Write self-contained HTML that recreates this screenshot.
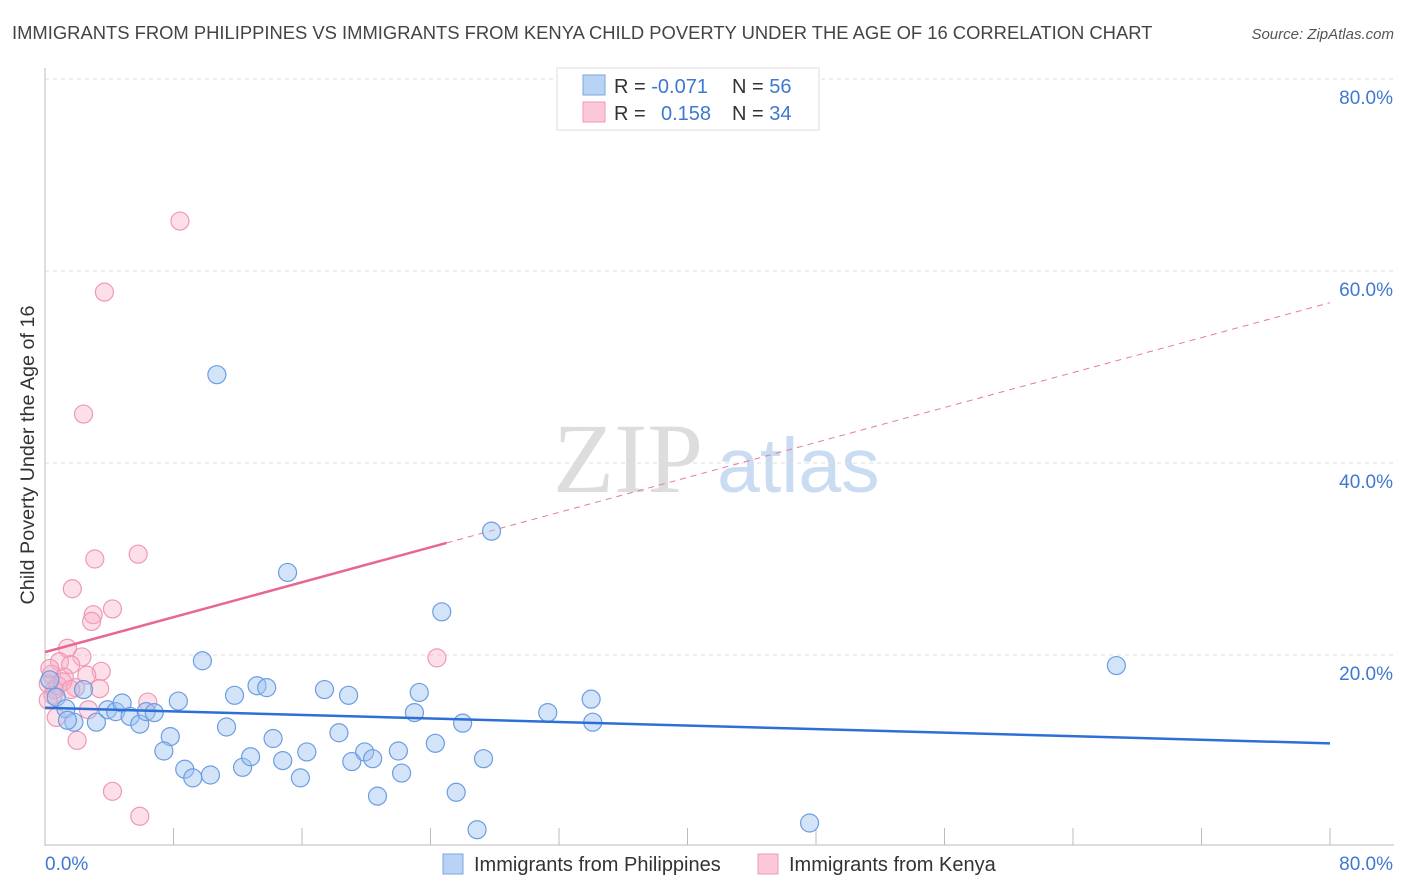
<!DOCTYPE html>
<html><head><meta charset="utf-8"><style>
body{margin:0;background:#fff;font-family:"Liberation Sans",sans-serif;}
svg{display:block}
</style></head><body>
<svg id="chart" width="1406" height="892" xmlns="http://www.w3.org/2000/svg">
<text x="12" y="39" font-size="18.4" fill="#444">IMMIGRANTS FROM PHILIPPINES VS IMMIGRANTS FROM KENYA CHILD POVERTY UNDER THE AGE OF 16 CORRELATION CHART</text>
<text x="1394" y="39" font-size="15" fill="#555" font-style="italic" text-anchor="end">Source: ZipAtlas.com</text>
<g>
<text x="553" y="492" font-size="100" font-family="Liberation Serif,serif" fill="#ddd">ZIP</text>
<text x="717" y="492" font-size="77" fill="#c9dcf2">atlas</text>
</g>
<g id="grid"></g>
<g id="axes"></g>
<g id="lines"></g>
<g id="pts"></g>
<text transform="translate(34,455) rotate(-90)" font-size="19.8" fill="#333" text-anchor="middle">Child Poverty Under the Age of 16</text>
<g>
<rect x="557" y="68" width="262" height="62" fill="#fff" stroke="#ddd"/>
<rect x="583" y="75" width="22" height="20" fill="#b8d3f4" stroke="#7aa7e2"/>
<rect x="583" y="102" width="22" height="20" fill="#fcc7d6" stroke="#ee9bb5"/>
<text x="614" y="93" font-size="20" fill="#333">R = <tspan fill="#3f78d0">-0.071</tspan><tspan x="732">N = </tspan><tspan fill="#3f78d0">56</tspan></text>
<text x="614" y="120" font-size="20" fill="#333">R = <tspan x="661" fill="#3f78d0">0.158</tspan><tspan x="732">N = </tspan><tspan fill="#3f78d0">34</tspan></text>
</g>
<g>
<rect x="443" y="854" width="20" height="20" fill="#b8d3f4" stroke="#7aa7e2"/>
<text x="474" y="871" font-size="20" fill="#333">Immigrants from Philippines</text>
<rect x="758" y="854" width="20" height="20" fill="#fcc7d6" stroke="#ee9bb5"/>
<text x="789" y="871" font-size="20" fill="#333">Immigrants from Kenya</text>
</g>
</svg>
<script>
const blueX=[10.7,15.1,27.8,24.7,66.7,9.8,0.3,0.7,1.3,1.8,2.4,3.2,3.9,4.4,4.8,5.3,5.9,6.3,6.8,8.3,7.8,7.4,8.7,9.2,10.3,11.3,11.8,12.3,12.8,13.2,13.8,14.2,14.8,15.9,16.3,17.4,18.3,18.9,19.1,19.9,20.4,20.7,22.0,22.2,23.0,23.3,24.3,25.6,26.0,26.9,27.3,31.3,34.0,34.1,47.6,1.4];
const blueY=[49.2,28.6,32.9,24.5,18.9,19.4,17.4,15.6,14.4,13.0,16.4,13.0,14.3,14.1,15.0,13.6,12.8,14.1,14.0,15.2,11.5,10.0,8.1,7.2,7.5,12.5,15.8,8.3,9.4,16.8,16.6,11.3,9.0,7.2,9.9,16.4,11.9,15.8,8.9,9.9,9.2,5.3,10.0,7.7,14.0,16.1,10.8,5.7,12.9,1.8,9.2,14.0,15.4,13.0,2.5,13.2];
const pinkX=[8.4,3.7,2.4,3.1,5.8,1.7,4.2,3.0,2.9,1.4,2.3,0.9,1.6,0.4,1.2,1.9,0.6,0.8,0.2,3.5,3.4,2.6,2.7,0.7,2.0,6.4,24.4,4.2,5.9,0.3,1.1,1.6,0.5,0.2];
const pinkY=[65.2,57.8,45.1,30.0,30.5,26.9,24.8,24.2,23.5,20.7,19.8,19.3,19.0,18.0,17.7,16.6,16.4,16.8,17.0,18.3,16.5,17.9,14.3,13.5,11.1,15.1,19.7,5.8,3.2,18.6,17.2,16.4,15.8,15.3];
const yTicks=[20,40,60,80];
const xTicks=[0,8,16,24,32,40,48,56,64,72,80];
const blueTrend=[14.5,10.8];
const pinkTrend=[20.3,56.7];
const pinkSolidEnd=25;
const NS="http://www.w3.org/2000/svg";
const sx=v=>45+v*1285/80, sy=v=>847-v*9.6;
function mk(p,t,a){const e=document.createElementNS(NS,t);for(const k in a)e.setAttribute(k,a[k]);p.appendChild(e);return e;}
const grid=document.getElementById('grid'),axes=document.getElementById('axes'),lines=document.getElementById('lines'),pts=document.getElementById('pts');
yTicks.forEach(v=>{
 const l=mk(grid,'line',{x1:45,x2:1394,y1:sy(v),y2:sy(v),stroke:'#ddd','stroke-dasharray':'4,4'});
 
 
 const t=mk(axes,'text',{x:1393,y:sy(v)+25,'font-size':19,fill:'#3f78d0','text-anchor':'end'});
 t.textContent=v.toFixed(1)+'%';
 
 
});
mk(axes,'line',{x1:45,x2:45,y1:68,y2:846,stroke:'#bbb'});
mk(axes,'line',{x1:45,x2:1394,y1:845,y2:845,stroke:'#bbb'});
xTicks.forEach(v=>{
 const l=mk(axes,'line',{x1:sx(v),x2:sx(v),y1:828,y2:845,stroke:'#bbb'});
 
 
});
[[0,'0.0%',45,'start'],[80,'80.0%',1393,'end']].forEach(d=>{
 const t=mk(axes,'text',{x:d[2],y:870,'font-size':19,fill:'#3f78d0','text-anchor':d[3]});
 t.textContent=d[1];
 
 
});
const pr=v=>pinkTrend[0]+(pinkTrend[1]-pinkTrend[0])*v/80;
const pd=mk(lines,'line',{x1:sx(pinkSolidEnd),y1:sy(pr(pinkSolidEnd)),x2:sx(80),y2:sy(pr(80)),stroke:'#e8799d','stroke-width':1,'stroke-dasharray':'6,5'});


pinkX.forEach((x,i)=>{
 const c=mk(pts,'circle',{cx:sx(x),cy:sy(pinkY[i]),r:9,fill:'rgba(247,175,200,0.4)',stroke:'#ef98b6','stroke-width':1.2});
 
 
});
blueX.forEach((x,i)=>{
 const c=mk(pts,'circle',{cx:sx(x),cy:sy(blueY[i]),r:9,fill:'rgba(160,196,240,0.45)',stroke:'#6b9de2','stroke-width':1.2});
 
 
});
const ps=mk(pts,'line',{x1:sx(0),y1:sy(pr(0)),x2:sx(pinkSolidEnd),y2:sy(pr(pinkSolidEnd)),stroke:'#e8678f','stroke-width':2.5});


const bl=mk(pts,'line',{x1:sx(0),y1:sy(blueTrend[0]),x2:sx(80),y2:sy(blueTrend[1]),stroke:'#2c6fd6','stroke-width':2.5});


</script>
</body></html>
